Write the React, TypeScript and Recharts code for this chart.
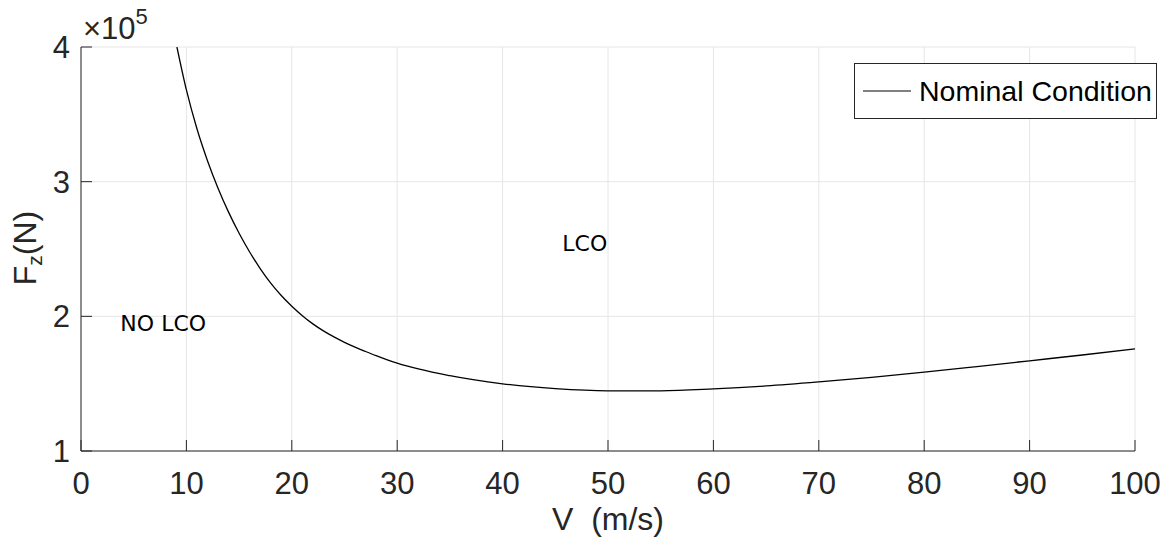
import { CartesianGrid, Label, Legend, Line, LineChart, ReferenceDot, XAxis, YAxis } from "recharts"

// critical vertical load vs. speed, nominal condition
const speed = [9.1, 10, 11, 12, 13, 14, 15, 16, 17, 18, 19, 20, 21, 22, 23, 24, 25, 26, 27, 28, 29, 30, 35, 40, 45, 50, 55, 60, 65, 70, 75, 80, 85, 90, 95, 100]
const forceE5 = [
  4.0, 3.681, 3.393, 3.156, 2.952, 2.774, 2.617, 2.478, 2.355, 2.247, 2.155, 2.075,
  2.005, 1.944, 1.892, 1.847, 1.807, 1.771, 1.739, 1.708, 1.679, 1.652,
  1.559, 1.499, 1.463, 1.447, 1.447, 1.461, 1.483, 1.513, 1.547, 1.585, 1.627, 1.67, 1.713, 1.758,
]

const xTicks = [0, 10, 20, 30, 40, 50, 60, 70, 80, 90, 100]
const yTicks = [100000, 200000, 300000, 400000]
const seriesName = "Nominal Condition"

const data = speed.map((v, i) => ({ v, fz: forceE5[i] * 1e5 }))

const AX = "#262626"
const SANS = "'Liberation Sans', Arial, Helvetica, sans-serif"
const TICK_FS = 31

function XTick({ x, y, payload }: any) {
  return (
    <g>
      <line x1={x} x2={x} y1={y} y2={y - 11} stroke={AX} />
      <text x={x} y={y + 43} textAnchor="middle" fontSize={TICK_FS} fontFamily={SANS} fill={AX}>
        {payload.value}
      </text>
    </g>
  )
}

function YTick({ x, y, payload }: any) {
  return (
    <g>
      <line x1={x} x2={x + 11} y1={y} y2={y} stroke={AX} />
      <text x={x - 11} y={y + 11} textAnchor="end" fontSize={TICK_FS} fontFamily={SANS} fill={AX}>
        {payload.value / 1e5}
      </text>
    </g>
  )
}

function LegendBox({ payload }: any) {
  const item = payload?.[0]
  return (
    <div style={{ width: 303, height: 56, boxSizing: "border-box", border: `1px solid ${AX}`, background: "#fff", position: "relative" }}>
      <svg width={303} height={56} style={{ position: "absolute", left: -1, top: -1 }}>
        <line x1={9} x2={57} y1={28} y2={28} stroke="#000" strokeWidth={1} />
        <text x={65} y={38} fontSize={28.5} fontFamily={SANS} fill="#000">{item?.value}</text>
      </svg>
    </div>
  )
}

export default function App() {
  return (
    <div style={{ position: "fixed", left: 0, top: 0, width: 1168, height: 539, background: "#fff" }}>
      <LineChart width={1168} height={539} data={data} margin={{ top: 47, right: 33, bottom: 0, left: 0 }}>
        <CartesianGrid stroke="#e6e6e6" horizontalValues={yTicks} verticalValues={xTicks} />
        <XAxis
          type="number"
          dataKey="v"
          domain={[0, 100]}
          ticks={xTicks}
          height={88}
          stroke={AX}
          tickLine={false}
          tickSize={0}
          tickMargin={0}
          tick={<XTick />}
          interval={0}
        >
          <Label
            content={() => (
              <text x={608} y={530} textAnchor="middle" fontSize={32} fontFamily={SANS} fill={AX} style={{ whiteSpace: "pre" }}>
                {"V  (m/s)"}
              </text>
            )}
          />
        </XAxis>
        <YAxis
          type="number"
          domain={[100000, 400000]}
          ticks={yTicks}
          width={81}
          stroke={AX}
          tickLine={false}
          tickSize={0}
          tickMargin={0}
          tick={<YTick />}
          interval={0}
          allowDataOverflow
        >
          <Label
            content={() => (
              <g>
                <text x={36} y={248} transform="rotate(-90, 36, 248)" textAnchor="middle" fontSize={32} fontFamily={SANS} fill={AX}>
                  <tspan>F</tspan>
                  <tspan fontSize={21} dy={6}>z</tspan>
                  <tspan dy={-6}>(N)</tspan>
                </text>
                <text x={83} y={39} fontSize={TICK_FS} fontFamily={SANS} fill={AX}>
                  <tspan>×10</tspan>
                  <tspan fontSize={22} dy={-15}>5</tspan>
                </text>
              </g>
            )}
          />
        </YAxis>
        <ReferenceDot
          x={7.8}
          y={195000}
          r={0}
          fill="none"
          stroke="none"
          label={{ value: "NO LCO", position: "center", fontSize: 22, fontFamily: "'DejaVu Sans', sans-serif", fill: "#000" }}
        />
        <ReferenceDot
          x={47.8}
          y={254000}
          r={0}
          fill="none"
          stroke="none"
          label={{ value: "LCO", position: "center", fontSize: 22, fontFamily: "'DejaVu Sans', sans-serif", fill: "#000" }}
        />
        <Line
          name={seriesName}
          type="monotone"
          dataKey="fz"
          stroke="#000"
          strokeWidth={1.3}
          dot={false}
          isAnimationActive={false}
        />
        <Legend
          layout="horizontal"
          verticalAlign="middle"
          align="center"
          content={<LegendBox />}
          wrapperStyle={{ position: "absolute", left: 854, top: 63, width: 303, height: 56 }}
        />
      </LineChart>
    </div>
  )
}
